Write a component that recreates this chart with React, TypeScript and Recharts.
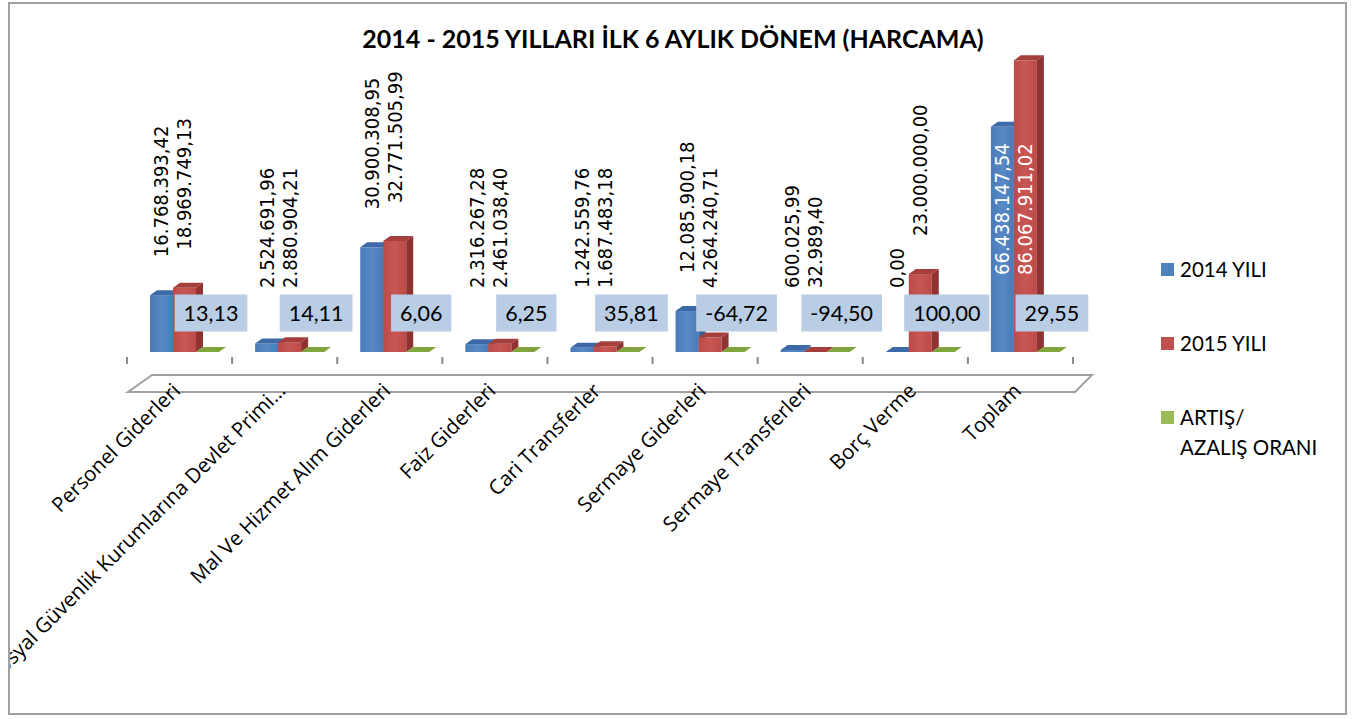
import React from 'react';
import { BarChart, Bar, XAxis, YAxis, LabelList, Legend } from 'recharts';

// ---- data ----
const categories = [
  'Personel Giderleri',
  'Sosyal Güvenlik Kurumlarına Devlet Primi…',
  'Mal Ve Hizmet Alım Giderleri',
  'Faiz Giderleri',
  'Cari Transferler',
  'Sermaye Giderleri',
  'Sermaye Transferleri',
  'Borç Verme',
  'Toplam',
];
const values2014 = [16768393.42, 2524691.96, 30900308.95, 2316267.28, 1242559.76, 12085900.18, 600025.99, 0, 66438147.54];
const values2015 = [18969749.13, 2880904.21, 32771505.99, 2461038.4, 1687483.18, 4264240.71, 32989.4, 23000000, 86067911.02];
const changeRates = [13.13, 14.11, 6.06, 6.25, 35.81, -64.72, -94.5, 100.0, 29.55];
const seriesNames = ['2014 YILI', '2015 YILI', 'ARTIŞ/ AZALIŞ ORANI'];
const chartTitle = '2014 - 2015 YILLARI İLK 6 AYLIK DÖNEM (HARCAMA)';
const yDomainMax = 90000000;

const data = categories.map((name, i) => ({
  name,
  y2014: values2014[i],
  y2015: values2015[i],
  rate: changeRates[i],
}));

// ---- layout / style ----
const W = 1354;
const H = 719;
const PLOT_LEFT = 127;
const PLOT_RIGHT = 1073;
const PLOT_TOP = 47;
const BASELINE = 352;
const BAND = (PLOT_RIGHT - PLOT_LEFT) / categories.length;
const DX = 7;
const DY = 5;
const SHIFT = 5;
const BAR_W = 23;

const LATO = "Lato, 'Open Sans', sans-serif";
const VFONT_FAMILY = "'DejaVu Sans Condensed', 'DejaVu Sans', sans-serif";
const VFONT_SIZE = 20;
const RFONT_SIZE = 21.5;

let ctx: CanvasRenderingContext2D | null = null;
function measure(text: string, font: string): number {
  if (!ctx) ctx = document.createElement('canvas').getContext('2d');
  if (!ctx) return text.length * 10;
  ctx.font = font;
  return ctx.measureText(text).width;
}

function fmtTR(v: number): string {
  const neg = v < 0;
  const [ip, fp] = Math.abs(v).toFixed(2).split('.');
  const dotted = ip.replace(/\B(?=(\d{3})+(?!\d))/g, '.');
  return (neg ? '-' : '') + dotted + ',' + fp;
}

const make3D = (id: string, c1: string, c2: string, top: string, side: string) => (props: any) => {
  const { x, y, width, height } = props;
  if (x == null || y == null || isNaN(x) || isNaN(y)) return <g />;
  const x0 = x + SHIFT;
  const yTop = Math.min(y, y + height);
  const h = Math.abs(height);
  return (
    <g>
      <defs>
        <linearGradient id={id} x1="0" y1="0" x2="1" y2="0">
          <stop offset="0" stopColor={c1} />
          <stop offset="0.5" stopColor={c2} />
          <stop offset="1" stopColor={c1} />
        </linearGradient>
      </defs>
      <rect x={x0} y={yTop} width={width} height={h} fill={`url(#${id})`} />
      <polygon
        points={`${x0},${yTop} ${x0 + DX},${yTop - DY} ${x0 + width + DX},${yTop - DY} ${x0 + width},${yTop}`}
        fill={top}
      />
      <polygon
        points={`${x0 + width},${yTop} ${x0 + width + DX},${yTop - DY} ${x0 + width + DX},${yTop + h - DY} ${x0 + width},${yTop + h}`}
        fill={side}
      />
    </g>
  );
};

const BlueShape = make3D('gBlue', '#4a7bb8', '#5689c6', '#3d6aa6', '#36609a');
const RedShape = make3D('gRed', '#bb4b48', '#c85754', '#a43f3c', '#8e3331');
const GreenShape = make3D('gGreen', '#9bbb59', '#a6c664', '#82a43e', '#6f8e33');

const VerticalLabel = (props: any) => {
  const vb = props.viewBox || props;
  const { x, y, width, height } = vb;
  if (x == null) return null;
  const cx = x + SHIFT + width / 2;
  const top = Math.min(y, y + height);
  const text = fmtTR(Number(props.value));
  const len = measure(text, `${VFONT_SIZE}px ${VFONT_FAMILY}`);
  let bottom = Math.min(top - 38, 288);
  let fill = '#000';
  if (bottom - len < PLOT_TOP + 20) {
    bottom = BASELINE - 77;
    fill = '#fff';
  }
  return (
    <text
      x={cx}
      y={bottom}
      transform={`rotate(-90 ${cx} ${bottom})`}
      textAnchor="start"
      dominantBaseline="central"
      fontFamily={VFONT_FAMILY}
      fontSize={VFONT_SIZE}
      fill={fill}
    >
      {text}
    </text>
  );
};

const RateLabel = (props: any) => {
  const vb = props.viewBox || props;
  const { x, y, width, height } = vb;
  if (x == null) return null;
  const cx = x + SHIFT + width / 2 + DX / 2;
  const base = Math.max(y, y + height);
  const text = fmtTR(Number(props.value));
  const tw = measure(text, `${RFONT_SIZE}px ${LATO}`);
  const bw = tw + 18;
  const bh = 37;
  const cy = base - 39;
  return (
    <g>
      <rect x={cx - bw / 2} y={cy - bh / 2} width={bw} height={bh} fill="#b9cde5" />
      <text x={cx} y={cy} textAnchor="middle" dominantBaseline="central" fontFamily={LATO} fontSize={RFONT_SIZE} fill="#000">
        {text}
      </text>
    </g>
  );
};

const CategoryTick = (props: any) => {
  const { x, payload, index } = props;
  const left = x - BAND / 2;
  const ax = x + 2;
  const ay = 392;
  const floor = `${PLOT_LEFT + 25},375 ${PLOT_RIGHT + 19},375 ${PLOT_RIGHT + 2},392 ${PLOT_LEFT + 1},392`;
  return (
    <g>
      {index === 0 && <polygon points={floor} fill="#fff" stroke="#a0a0a0" strokeWidth={2} />}
      <line x1={left} x2={left} y1={357} y2={364} stroke="#8a8a8a" strokeWidth={2} />
      {index === categories.length - 1 && (
        <line x1={x + BAND / 2} x2={x + BAND / 2} y1={357} y2={364} stroke="#8a8a8a" strokeWidth={2} />
      )}
      <text
        x={ax}
        y={ay}
        transform={`rotate(-45 ${ax} ${ay})`}
        textAnchor="end"
        fontFamily="'Open Sans', sans-serif"
        fontSize={20.5}
        fill="#000"
      >
        {payload.value}
      </text>
    </g>
  );
};

const legendColors = ['#4f81bd', '#c0504d', '#9bbb59'];

const LegendContent = () => (
  <svg width={200} height={220} style={{ display: 'block' }}>
    {seriesNames.map((n, i) => {
      const parts = n.split(' ');
      const lines = i === 2 ? [parts[0], parts.slice(1).join(' ')] : [n];
      const rowY = 13 + i * 74;
      return (
        <g key={n}>
          <rect x={11} y={rowY} width={13} height={13} fill={legendColors[i]} />
          {lines.map((ln, j) => (
            <text key={j} x={30} y={rowY + 14 + j * 30} fontFamily={LATO} fontSize={20.5} fill="#000">
              {ln}
            </text>
          ))}
        </g>
      );
    })}
  </svg>
);

export default function App() {
  return (
    <div style={{ position: 'absolute', left: 0, top: 0, width: W, height: H, background: '#fff' }}>
      <div style={{ position: 'absolute', left: 0, top: 0, width: W, height: H, clipPath: 'inset(3px 8px 6px 9px)' }}>
        <BarChart
          width={W}
          height={H}
          data={data}
          margin={{ top: PLOT_TOP, left: PLOT_LEFT, right: W - PLOT_RIGHT, bottom: 0 }}
          barSize={BAR_W}
          barGap={0}
        >
          <XAxis
            dataKey="name"
            axisLine={false}
            tickLine={false}
            interval={0}
            tick={<CategoryTick />}
            height={H - BASELINE}
          />
          <YAxis hide domain={[0, yDomainMax]} allowDataOverflow />
          <Legend
            layout="horizontal"
            align="center"
            verticalAlign="middle"
            content={<LegendContent />}
            wrapperStyle={{ position: 'absolute', left: 1150, top: 250, width: 200, height: 220 }}
          />
          <Bar dataKey="y2014" name={seriesNames[0]} fill="#4f81bd" shape={BlueShape} isAnimationActive={false}>
            <LabelList dataKey="y2014" content={<VerticalLabel />} />
          </Bar>
          <Bar dataKey="y2015" name={seriesNames[1]} fill="#c0504d" shape={RedShape} isAnimationActive={false}>
            <LabelList dataKey="y2015" content={<VerticalLabel />} />
          </Bar>
          <Bar dataKey="rate" name={seriesNames[2]} fill="#9bbb59" shape={GreenShape} isAnimationActive={false}>
            <LabelList dataKey="rate" content={<RateLabel />} />
          </Bar>
        </BarChart>
      </div>
      <svg width={W} height={60} style={{ position: 'absolute', left: 0, top: 0, pointerEvents: 'none' }}>
        <text x={673} y={48} textAnchor="middle" fontFamily={LATO} fontWeight="bold" fontSize={25} fill="#000">
          {chartTitle}
        </text>
      </svg>
      <div
        style={{
          position: 'absolute',
          left: 8,
          top: 2,
          width: 1339,
          height: 713,
          border: '2px solid #a0a0a0',
          boxSizing: 'border-box',
          pointerEvents: 'none',
        }}
      />
    </div>
  );
}
